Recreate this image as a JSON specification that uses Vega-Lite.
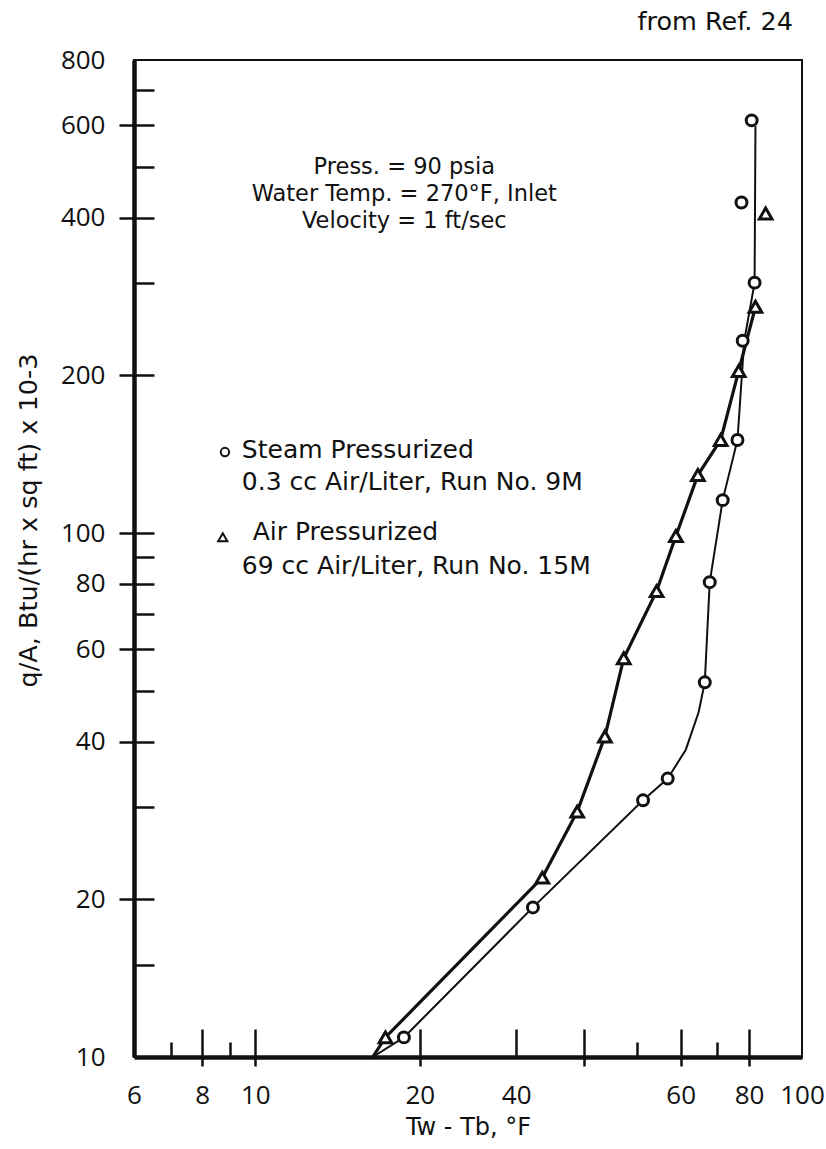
{
  "$schema": "https://vega.github.io/schema/vega-lite/v6.json",
  "width": 668,
  "height": 997,
  "autosize": {"type": "none"},
  "padding": {"left": 134, "top": 60, "right": 24, "bottom": 92},
  "background": "white",
  "title": {"text": "from Ref. 24", "anchor": "end", "frame": "group", "fontSize": 25.5, "font": "DejaVu Sans", "fontWeight": "normal", "color": "#111", "baseline": "middle", "offset": 25, "dy": 25, "dx": -9},
  "config": {
    "font": "Open Sans",
    "view": {"stroke": "#111", "strokeWidth": 2},
    "axis": {"grid": false, "labelFont": "Open Sans", "labelFontSize": 26, "labelColor": "#111", "titleFont": "DejaVu Sans", "titleFontSize": 24, "titleFontWeight": "normal", "titleColor": "#111", "tickColor": "#111", "tickWidth": 2.5, "domainColor": "#111", "labelFlush": false, "labelOverlap": false}
  },
  "datasets": {
    "curves": [
      {"series": "Steam", "dT": 16.4, "qA": 10.0},
      {"series": "Steam", "dT": 18.7, "qA": 10.9},
      {"series": "Steam", "dT": 32.2, "qA": 19.3},
      {"series": "Steam", "dT": 51.2, "qA": 30.9},
      {"series": "Steam", "dT": 56.8, "qA": 34.0},
      {"series": "Steam", "dT": 61.3, "qA": 38.6},
      {"series": "Steam", "dT": 64.7, "qA": 45.5},
      {"series": "Steam", "dT": 66.4, "qA": 51.9},
      {"series": "Steam", "dT": 67.8, "qA": 80.6},
      {"series": "Steam", "dT": 71.6, "qA": 115.6},
      {"series": "Steam", "dT": 76.2, "qA": 150.6},
      {"series": "Steam", "dT": 78.4, "qA": 232.9},
      {"series": "Steam", "dT": 81.9, "qA": 300.7},
      {"series": "Steam", "dT": 82.2, "qA": 598},
      {"series": "Air", "dT": 16.4, "qA": 10.0},
      {"series": "Air", "dT": 17.3, "qA": 10.9},
      {"series": "Air", "dT": 33.5, "qA": 22.0},
      {"series": "Air", "dT": 38.8, "qA": 29.4},
      {"series": "Air", "dT": 43.6, "qA": 40.9},
      {"series": "Air", "dT": 47.2, "qA": 57.7},
      {"series": "Air", "dT": 54.2, "qA": 77.5},
      {"series": "Air", "dT": 58.8, "qA": 98.7},
      {"series": "Air", "dT": 64.5, "qA": 129.1},
      {"series": "Air", "dT": 71.0, "qA": 150.6},
      {"series": "Air", "dT": 76.6, "qA": 204.0},
      {"series": "Air", "dT": 82.2, "qA": 270.4}
    ],
    "points": [
      {"series": "Steam", "dT": 80.9, "qA": 613.6},
      {"series": "Steam", "dT": 77.5, "qA": 427.6},
      {"series": "Steam", "dT": 81.9, "qA": 300.7},
      {"series": "Steam", "dT": 77.9, "qA": 232.9},
      {"series": "Steam", "dT": 76.2, "qA": 150.6},
      {"series": "Steam", "dT": 71.6, "qA": 115.6},
      {"series": "Steam", "dT": 67.8, "qA": 80.6},
      {"series": "Steam", "dT": 66.4, "qA": 51.9},
      {"series": "Steam", "dT": 56.8, "qA": 34.0},
      {"series": "Steam", "dT": 51.2, "qA": 30.9},
      {"series": "Steam", "dT": 32.2, "qA": 19.3},
      {"series": "Steam", "dT": 18.7, "qA": 10.9},
      {"series": "Air", "dT": 85.8, "qA": 407.4},
      {"series": "Air", "dT": 82.2, "qA": 270.4},
      {"series": "Air", "dT": 76.6, "qA": 204.0},
      {"series": "Air", "dT": 71.0, "qA": 150.6},
      {"series": "Air", "dT": 64.5, "qA": 129.1},
      {"series": "Air", "dT": 58.8, "qA": 98.7},
      {"series": "Air", "dT": 54.2, "qA": 77.5},
      {"series": "Air", "dT": 47.2, "qA": 57.7},
      {"series": "Air", "dT": 43.6, "qA": 40.9},
      {"series": "Air", "dT": 38.8, "qA": 29.4},
      {"series": "Air", "dT": 33.5, "qA": 22.0},
      {"series": "Air", "dT": 17.3, "qA": 10.9}
    ]
  },
  "resolve": {"scale": {"x": "shared", "y": "shared"}, "axis": {"x": "independent", "y": "independent"}},
  "layer": [
    {
      "data": {"name": "curves"},
      "transform": [{"filter": "datum.series == 'Steam'"}],
      "mark": {"type": "line", "color": "#111", "strokeWidth": 2},
      "encoding": {
        "x": {"field": "dT", "type": "quantitative", "scale": {"type": "log", "domain": [6, 100], "nice": false},
          "axis": {"orient": "bottom", "values": [7, 8, 9, 10, 20, 30, 40, 50, 60, 70, 80], "tickSize": {"condition": {"test": "datum.value == 7 || datum.value == 9 || datum.value == 50 || datum.value == 70", "value": -15}, "value": -28}, "labels": false, "domain": true, "domainWidth": 4.5, "title": null}},
        "y": {"field": "qA", "type": "quantitative", "scale": {"type": "log", "domain": [10, 800], "nice": false},
          "axis": {"orient": "left", "values": [15, 20, 30, 40, 50, 60, 70, 80, 90, 100, 200, 300, 400, 500, 600, 700], "tickSize": -20, "labels": false, "domain": true, "domainWidth": 4.5, "title": null}},
        "order": {"field": "qA", "type": "quantitative"}
      }
    },
    {
      "data": {"name": "curves"},
      "transform": [{"filter": "datum.series == 'Air'"}],
      "mark": {"type": "line", "color": "#111", "strokeWidth": 3.2},
      "encoding": {
        "x": {"field": "dT", "type": "quantitative", "scale": {"type": "log", "domain": [6, 100], "nice": false},
          "axis": {"orient": "bottom", "values": [8, 10, 20, 40, 60, 80], "tickSize": 9, "labels": false, "domain": false, "title": null}},
        "y": {"field": "qA", "type": "quantitative", "scale": {"type": "log", "domain": [10, 800], "nice": false},
          "axis": {"orient": "left", "values": [20, 40, 60, 80, 100, 200, 400, 600], "tickSize": 15, "labels": false, "domain": false, "title": null}},
        "order": {"field": "qA", "type": "quantitative"}
      }
    },
    {
      "data": {"name": "points"},
      "transform": [{"filter": "datum.series == 'Steam'"}],
      "mark": {"type": "point", "shape": "circle", "filled": true, "fill": "white", "stroke": "#111", "strokeWidth": 3, "size": 120, "opacity": 1},
      "encoding": {
        "x": {"field": "dT", "type": "quantitative", "scale": {"type": "log", "domain": [6, 100], "nice": false},
          "axis": {"orient": "bottom", "values": [6, 8, 10, 20, 30, 60, 80, 100], "ticks": false, "domain": false, "labelPadding": 25, "labelExpr": "datum.value == 30 ? '40' : format(datum.value, 'd')", "title": "Tw - Tb, °F", "titleY": 70, "titleBaseline": "middle"}},
        "y": {"field": "qA", "type": "quantitative", "scale": {"type": "log", "domain": [10, 800], "nice": false},
          "axis": {"orient": "left", "values": [10, 20, 40, 60, 80, 100, 200, 400, 600, 800], "ticks": false, "domain": false, "labelPadding": 29, "format": "d", "title": "q/A, Btu/(hr x sq ft) x 10-3", "titleFontSize": 25.5, "titleX": -106, "titleY": 460, "titleBaseline": "middle", "titleAngle": -90, "titleAlign": "center"}}
      }
    },
    {
      "data": {"name": "points"},
      "transform": [{"filter": "datum.series == 'Air'"}],
      "mark": {"type": "point", "shape": "triangle-up", "filled": true, "fill": "white", "stroke": "#111", "strokeWidth": 3, "size": 160, "opacity": 1},
      "encoding": {
        "x": {"field": "dT", "type": "quantitative", "scale": {"type": "log", "domain": [6, 100], "nice": false}, "axis": null},
        "y": {"field": "qA", "type": "quantitative", "scale": {"type": "log", "domain": [10, 800], "nice": false}, "axis": null}
      }
    },
    {
      "data": {"values": [{}]},
      "mark": {"type": "text", "text": ["Press. = 90 psia", "Water Temp. = 270°F, Inlet", "Velocity = 1 ft/sec"], "align": "center", "baseline": "middle", "lineHeight": 27, "fontSize": 22.5, "font": "DejaVu Sans", "color": "#111"},
      "encoding": {"x": {"datum": 18.73, "type": "quantitative", "axis": null}, "y": {"datum": 500.9, "type": "quantitative", "axis": null}}
    },
    {
      "data": {"values": [{}]},
      "mark": {"type": "point", "shape": "circle", "filled": true, "fill": "white", "stroke": "#111", "strokeWidth": 2, "size": 70, "opacity": 1},
      "encoding": {"x": {"datum": 8.8, "type": "quantitative", "axis": null}, "y": {"datum": 142.8, "type": "quantitative", "axis": null}}
    },
    {
      "data": {"values": [{}]},
      "mark": {"type": "point", "shape": "triangle-up", "filled": true, "fill": "white", "stroke": "#111", "strokeWidth": 2, "size": 85, "opacity": 1},
      "encoding": {"x": {"datum": 8.72, "type": "quantitative", "axis": null}, "y": {"datum": 98.2, "type": "quantitative", "axis": null}}
    },
    {
      "data": {"values": [{}]},
      "mark": {"type": "text", "text": ["Steam Pressurized", "0.3 cc Air/Liter, Run No. 9M"], "align": "left", "baseline": "middle", "lineHeight": 32, "fontSize": 25, "font": "DejaVu Sans", "color": "#111"},
      "encoding": {"x": {"datum": 9.45, "type": "quantitative", "axis": null}, "y": {"datum": 144.1, "type": "quantitative", "axis": null}}
    },
    {
      "data": {"values": [{}]},
      "mark": {"type": "text", "text": "Air Pressurized", "align": "left", "baseline": "middle", "fontSize": 25, "font": "DejaVu Sans", "color": "#111"},
      "encoding": {"x": {"datum": 9.89, "type": "quantitative", "axis": null}, "y": {"datum": 100.4, "type": "quantitative", "axis": null}}
    },
    {
      "data": {"values": [{}]},
      "mark": {"type": "text", "text": "69 cc Air/Liter, Run No. 15M", "align": "left", "baseline": "middle", "fontSize": 25, "font": "DejaVu Sans", "color": "#111"},
      "encoding": {"x": {"datum": 9.45, "type": "quantitative", "axis": null}, "y": {"datum": 86.5, "type": "quantitative", "axis": null}}
    }
  ]
}
